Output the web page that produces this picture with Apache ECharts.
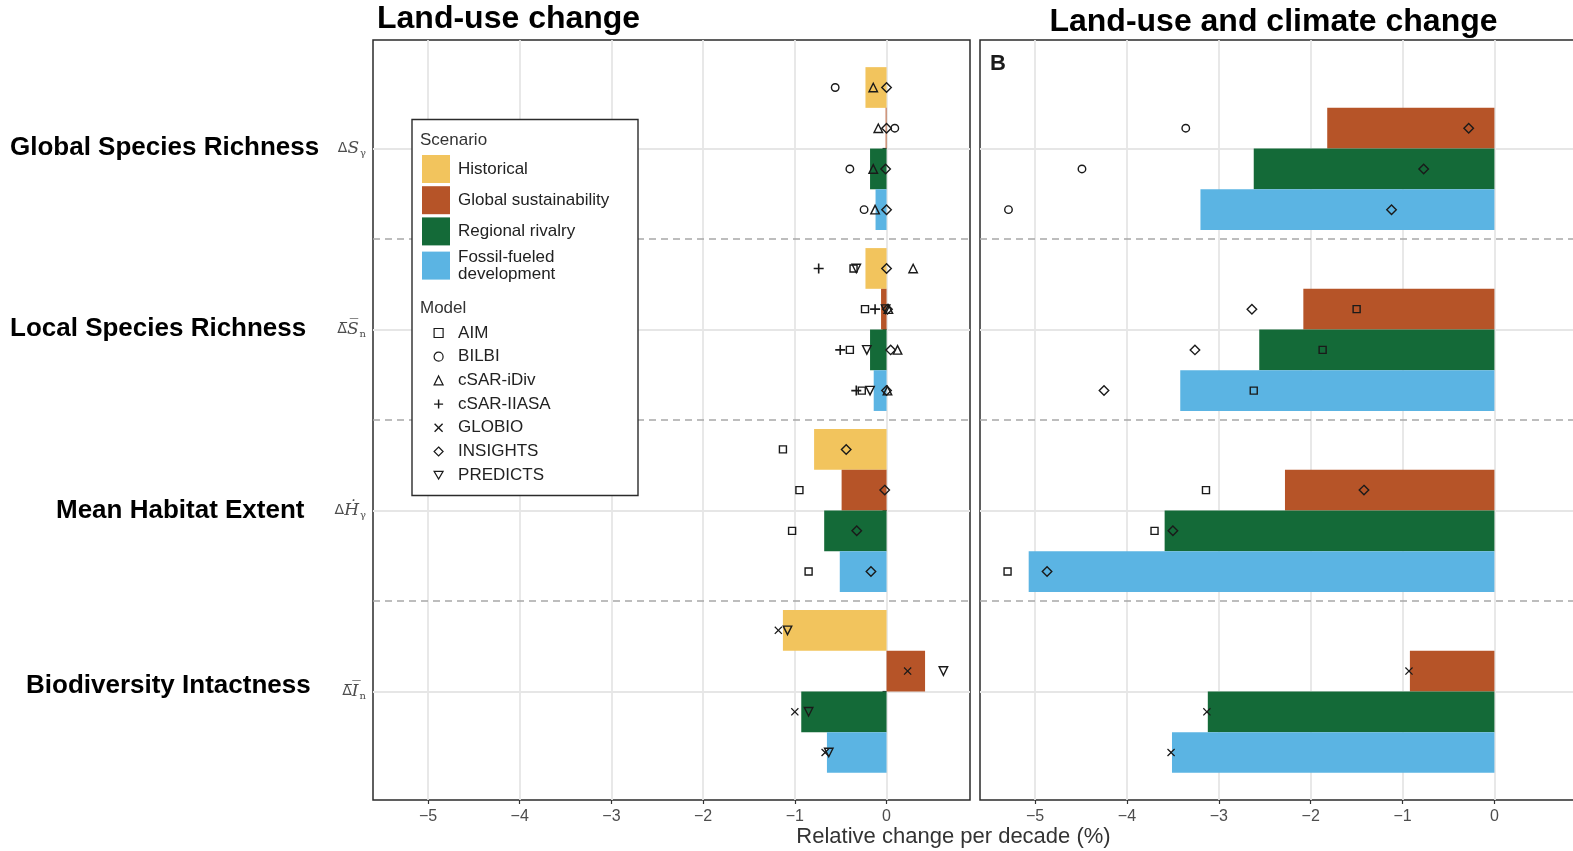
<!DOCTYPE html>
<html>
<head>
<meta charset="utf-8">
<script src="https://cdn.jsdelivr.net/npm/echarts@6/dist/echarts.min.js"></script>
<style>
  html, body { margin: 0; padding: 0; background: #ffffff; }
  #chart { width: 1573px; height: 851px; }
</style>
</head>
<body>
<div id="chart"></div>
<script>
// ---- Indicators, scenarios, models ----
const groupNames = ['Global Species Richness', 'Local Species Richness', 'Mean Habitat Extent', 'Biodiversity Intactness'];
const groupSymbols = [
  '{d|Δ}{v|S}{sub|γ}',
  '{d|Δ\u0305}{v|S\u0305}{sub|n}',
  '{d|Δ}{v|Ḣ}{sub|γ}',
  '{d|Δ\u0305}{v|I\u0305}{sub|n}'
];
const scenarios = ['Historical', 'Global sustainability', 'Regional rivalry', 'Fossil-fueled development'];
const models = ['AIM', 'BILBI', 'cSAR-iDiv', 'cSAR-IIASA', 'GLOBIO', 'INSIGHTS', 'PREDICTS'];
const panelTitles = ['Land-use change', 'Land-use and climate change'];
const xTickValues = [-5, -4, -3, -2, -1, 0];
const yTickValues = [1, 2, 3, 4];
const xAxisTitle = 'Relative change per decade (%)';

// ---- Scenario means (% per decade), one value per indicator ----
const N = null;
const luHistorical = [-0.23, -0.23, -0.79, -1.13];
const luGlobalSust = [-0.01, -0.06, -0.49, 0.42];
const luRegional   = [-0.18, -0.18, -0.68, -0.93];
const luFossil     = [-0.12, -0.14, -0.51, -0.65];

const lcHistorical = [N, N, N, N];
const lcGlobalSust = [-1.82, -2.08, -2.28, -0.92];
const lcRegional   = [-2.62, -2.56, -3.59, -3.12];
const lcFossil     = [-3.20, -3.42, -5.07, -3.51];

// ---- Model estimates: rows = indicator, columns = scenario ----
const luAIM       = [[N, N, N, N], [-0.36, -0.235, -0.40, -0.27], [-1.13, -0.95, -1.03, -0.85], [N, N, N, N]];
const luBILBI     = [[-0.56, 0.09, -0.40, -0.245], [N, N, N, N], [N, N, N, N], [N, N, N, N]];
const luCsarIdiv  = [[-0.145, -0.09, -0.145, -0.125], [0.29, 0.02, 0.12, 0.01], [N, N, N, N], [N, N, N, N]];
const luCsarIiasa = [[N, N, N, N], [-0.74, -0.125, -0.505, -0.33], [N, N, N, N], [N, N, N, N]];
const luGLOBIO    = [[N, N, N, N], [N, N, N, N], [N, N, N, N], [-1.18, 0.23, -1.00, -0.67]];
const luINSIGHTS  = [[0.0, 0.0, -0.01, 0.0], [0.0, 0.01, 0.045, 0.0], [-0.44, -0.02, -0.325, -0.17], [N, N, N, N]];
const luPREDICTS  = [[N, N, N, N], [-0.33, -0.01, -0.215, -0.18], [N, N, N, N], [-1.08, 0.62, -0.85, -0.63]];

const lcAIM       = [[N, N, N, N], [N, -1.50, -1.87, -2.62], [N, -3.14, -3.70, -5.30], [N, N, N, N]];
const lcBILBI     = [[N, -3.36, -4.49, -5.29], [N, N, N, N], [N, N, N, N], [N, N, N, N]];
const lcCsarIdiv  = [[N, N, N, N], [N, N, N, N], [N, N, N, N], [N, N, N, N]];
const lcCsarIiasa = [[N, N, N, N], [N, N, N, N], [N, N, N, N], [N, N, N, N]];
const lcGLOBIO    = [[N, N, N, N], [N, N, N, N], [N, N, N, N], [N, -0.93, -3.13, -3.52]];
const lcINSIGHTS  = [[N, -0.28, -0.77, -1.12], [N, -2.64, -3.26, -4.25], [N, -1.42, -3.50, -4.87], [N, N, N, N]];
const lcPREDICTS  = [[N, N, N, N], [N, N, N, N], [N, N, N, N], [N, N, N, N]];

// ---- Styling ----
const scenarioColors = ['#F2C45D', '#B65428', '#146A38', '#5BB4E3'];
const ink = '#1a1a1a';
const plusPath = 'path://M4.2,0H5.8V10H4.2Z M0,4.2H10V5.8H0Z';
const crossPath = 'path://M1.1,0L5,3.9L8.9,0L10,1.1L6.1,5L10,8.9L8.9,10L5,6.1L1.1,10L0,8.9L3.9,5L0,1.1Z';
const downTriPath = 'path://M0,0L10,0L5,8.7Z';
const modelMarks = {
  'AIM':        { symbol: 'rect',      size: 7,   hollow: true },
  'BILBI':      { symbol: 'circle',    size: 7.5, hollow: true },
  'cSAR-iDiv':  { symbol: 'triangle',  size: 8.5, hollow: true },
  'cSAR-IIASA': { symbol: plusPath,    size: 10,  hollow: false },
  'GLOBIO':     { symbol: crossPath,   size: 8,   hollow: false },
  'INSIGHTS':   { symbol: 'diamond',   size: 9.5, hollow: true },
  'PREDICTS':   { symbol: downTriPath, size: 8.5, hollow: true }
};

const panels = [
  { bars: [luHistorical, luGlobalSust, luRegional, luFossil],
    points: [luAIM, luBILBI, luCsarIdiv, luCsarIiasa, luGLOBIO, luINSIGHTS, luPREDICTS] },
  { bars: [lcHistorical, lcGlobalSust, lcRegional, lcFossil],
    points: [lcAIM, lcBILBI, lcCsarIdiv, lcCsarIiasa, lcGLOBIO, lcINSIGHTS, lcPREDICTS] }
];

// dodged bars: 4 scenarios share 0.9 of each indicator band
const slotWidth = 0.9 / 4;
const slotY = (g, s) => (g + 1) + (s - 1.5) * slotWidth;

const minusFmt = v => (v < 0 ? '\u2212' + Math.abs(v) : String(v));

const grids = [
  { left: 373, top: 40, width: 597, height: 760 },
  { left: 980, top: 40, width: 598, height: 760 }
].map(g => Object.assign(g, {
  show: true, backgroundColor: '#ffffff', borderColor: '#2b2b2b', borderWidth: 1.5,
  containLabel: false, outerBoundsMode: 'none'
}));

const xAxes = grids.map((g, i) => ({
  type: 'value', gridIndex: i, min: -5.6, max: 0.91, splitNumber: 6,
  axisLine: { show: false },
  axisTick: { show: true, length: 4, lineStyle: { color: '#333', width: 1.2 }, customValues: xTickValues },
  axisLabel: { show: true, customValues: xTickValues, formatter: minusFmt, color: '#4d4d4d',
               fontSize: 16, fontFamily: '"Liberation Sans", Arial, sans-serif', margin: 9 },
  splitLine: { show: true, lineStyle: { color: '#e6e6e6', width: 1.8 } }
}));

const yAxes = grids.map((g, i) => ({
  type: 'value', gridIndex: i, min: 0.4, max: 4.6, inverse: true,
  axisLine: { show: false },
  axisTick: { show: i === 0, length: 4, lineStyle: { color: '#333', width: 1.2 }, customValues: yTickValues },
  axisLabel: {
    show: i === 0, customValues: yTickValues, margin: 7,
    formatter: v => {
      const k = yTickValues.indexOf(Math.round(v));
      return (k >= 0 && Math.abs(v - Math.round(v)) < 1e-6) ? groupSymbols[k] : '';
    },
    rich: {
      d:   { fontSize: 14, color: '#4d4d4d', fontFamily: '"DejaVu Sans", sans-serif' },
      v:   { fontSize: 17, color: '#4d4d4d', fontStyle: 'italic', fontFamily: '"DejaVu Serif", "Liberation Serif", serif' },
      sub: { fontSize: 10, color: '#4d4d4d', fontFamily: '"DejaVu Serif", serif', padding: [9, 0, 0, 1] }
    }
  },
  splitLine: { show: true, lineStyle: { color: '#e6e6e6', width: 1.8 } }
}));

const series = [];

panels.forEach((panel, p) => {
  // scenario bars
  panel.bars.forEach((vals, s) => {
    const data = [];
    vals.forEach((v, g) => { if (v !== null) data.push([g, s, v]); });
    const ser = {
      type: 'custom', name: scenarios[s], xAxisIndex: p, yAxisIndex: p, z: 2,
      itemStyle: { color: scenarioColors[s] },
      encode: { x: 2, y: 0 },
      renderItem: (params, api) => {
        const yc = slotY(api.value(0), api.value(1));
        const a = api.coord([0, yc - slotWidth / 2]);
        const b = api.coord([api.value(2), yc + slotWidth / 2]);
        return {
          type: 'rect',
          shape: { x: Math.min(a[0], b[0]), y: Math.min(a[1], b[1]),
                   width: Math.abs(b[0] - a[0]), height: Math.abs(b[1] - a[1]) },
          style: api.style()
        };
      },
      data: data
    };
    if (s === 1) {
      // dashed separators between indicators
      ser.markLine = {
        silent: true, symbol: 'none', label: { show: false },
        lineStyle: { color: '#a8a8a8', type: [7, 5], width: 1.6 },
        data: [{ yAxis: 1.5 }, { yAxis: 2.5 }, { yAxis: 3.5 }]
      };
    }
    series.push(ser);
  });
  // model points
  panel.points.forEach((tbl, m) => {
    const name = models[m];
    const mk = modelMarks[name];
    const data = [];
    tbl.forEach((row, g) => row.forEach((v, s) => { if (v !== null) data.push([v, slotY(g, s)]); }));
    series.push({
      type: 'scatter', name: name, xAxisIndex: p, yAxisIndex: p, z: 4,
      symbol: mk.symbol, symbolSize: mk.size,
      itemStyle: mk.hollow
        ? { color: 'rgba(0,0,0,0)', borderColor: ink, borderWidth: 1.4, opacity: 1 }
        : { color: ink, borderColor: ink, borderWidth: 0, opacity: 1 },
      emphasis: { disabled: true },
      data: data
    });
  });
});

const baseFont = '"Liberation Sans", Arial, sans-serif';
const groupTitlePos = [[10, 148], [10, 329], [56, 510.5], [26, 686]];

const graphic = [
  { type: 'text', x: 377, y: 19, style: { text: panelTitles[0], font: 'bold 32px ' + baseFont, fill: '#000', textVerticalAlign: 'middle' } },
  { type: 'text', x: 1273.5, y: 22, style: { text: panelTitles[1], font: 'bold 32px ' + baseFont, fill: '#000', textAlign: 'center', textVerticalAlign: 'middle' } },
  { type: 'text', x: 990, y: 64, z: 8, style: { text: 'B', font: 'bold 22px ' + baseFont, fill: '#1a1a1a', textVerticalAlign: 'middle' } },
  { type: 'text', x: 953.5, y: 837, style: { text: xAxisTitle, font: '22px ' + baseFont, fill: '#333', textAlign: 'center', textVerticalAlign: 'middle' } },
  { type: 'rect', z: 10, shape: { x: 412, y: 119.5, width: 226, height: 376 }, style: { fill: '#ffffff', stroke: '#2b2b2b', lineWidth: 1.4 } },
  { type: 'text', z: 11, x: 420, y: 140, style: { text: 'Scenario', font: '17px ' + baseFont, fill: '#333', textVerticalAlign: 'middle' } },
  { type: 'text', z: 11, x: 420, y: 308.5, style: { text: 'Model', font: '17px ' + baseFont, fill: '#333', textVerticalAlign: 'middle' } }
].concat(groupNames.map((t, i) => ({
  type: 'text', x: groupTitlePos[i][0], y: groupTitlePos[i][1],
  style: { text: t, font: 'bold 26px ' + baseFont, fill: '#000', textVerticalAlign: 'middle' }
})));

const option = {
  animation: false,
  backgroundColor: '#ffffff',
  grid: grids,
  xAxis: xAxes,
  yAxis: yAxes,
  legend: [
    {
      z: 20, left: 422, top: 155, orient: 'vertical', padding: 0, itemGap: 3.2,
      itemWidth: 28, itemHeight: 28, icon: 'rect', selectedMode: false,
      data: scenarios,
      formatter: n => n.replace('Fossil-fueled ', 'Fossil-fueled\n'),
      textStyle: { fontSize: 17, color: '#222', fontFamily: baseFont, lineHeight: 17, padding: [0, 0, 0, 3] }
    },
    {
      z: 20, left: 433.5, top: 324, orient: 'vertical', padding: 0, itemGap: 5.7,
      itemWidth: 9, itemHeight: 9, selectedMode: false,
      data: models.map(n => ({
        name: n,
        icon: modelMarks[n].symbol,
        itemStyle: modelMarks[n].hollow
          ? { color: 'rgba(0,0,0,0)', borderColor: ink, borderWidth: 1.2 }
          : { color: ink, borderWidth: 0 }
      })),
      textStyle: { fontSize: 17, color: '#222', fontFamily: baseFont, lineHeight: 18, padding: [0, 0, 0, 10] }
    }
  ],
  graphic: graphic,
  series: series
};

const chart = echarts.init(document.getElementById('chart'), null, { renderer: 'canvas' });
chart.setOption(option);
</script>
</body>
</html>
